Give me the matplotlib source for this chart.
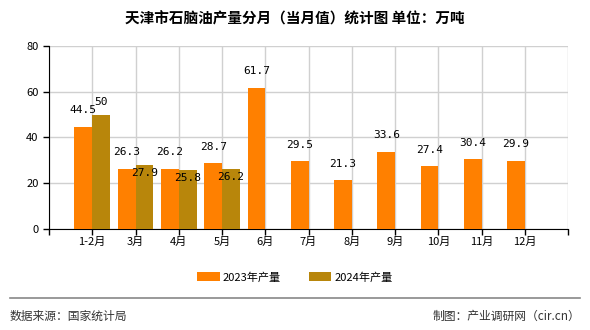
import matplotlib
matplotlib.use("Agg")
import matplotlib.pyplot as plt
import numpy as np

plt.rcParams['font.family'] = ['Noto Sans CJK SC', 'DejaVu Sans']

months = ["1-2月", "3月", "4月", "5月", "6月", "7月", "8月", "9月", "10月", "11月", "12月"]
y2023 = [44.5, 26.3, 26.2, 28.7, 61.7, 29.5, 21.3, 33.6, 27.4, 30.4, 29.9]
y2024 = [50, 27.9, 25.8, 26.2]
c2023 = "#FF8000"
c2024 = "#B8860B"

fig = plt.figure(figsize=(5.9, 3.3), dpi=100)
ax = fig.add_axes([0.083, 0.306, 0.88, 0.555])

x = np.arange(1, len(months) + 1)
w = 0.41
ax.bar(x - w / 2, y2023, width=w, color=c2023, label="2023年产量", zorder=3)
x24 = x[:len(y2024)]
ax.bar(x24 + w / 2, y2024, width=w, color=c2024, label="2024年产量", zorder=3)

mono = ['DejaVu Sans Mono']
for xi, v in zip(x, y2023):
    ax.annotate(f"{v:g}", (xi - w / 2, v), xytext=(0, 12), textcoords="offset points",
                ha="center", va="center", fontsize=8, family=mono)
for i, (xi, v) in enumerate(zip(x24, y2024)):
    off = 9 if i == 0 else -6
    ax.annotate(f"{v:g}", (xi + w / 2, v), xytext=(0, off), textcoords="offset points",
                ha="center", va="center", fontsize=8, family=mono)

ax.set_xlim(0, 12)
ax.set_ylim(0, 80)
ax.set_yticks([0, 20, 40, 60, 80])
ax.set_xticks(np.arange(0, 13))
ax.set_xticklabels([""] + months + [""], fontsize=8)
ax.tick_params(axis="y", labelsize=8, length=4, width=1)
ax.tick_params(axis="x", length=4, width=1, pad=2)
ax.grid(True, color="#d0d0d0", linewidth=1, zorder=0)
for s in ["top", "right"]:
    ax.spines[s].set_visible(False)
ax.spines["left"].set_color("black")
ax.spines["bottom"].set_color("black")

fig.text(0.5, 0.945, "天津市石脑油产量分月（当月值）统计图 单位：万吨", ha="center", va="center",
         fontsize=10.5, fontweight="bold")

fig.legend(loc="center", bbox_to_anchor=(0.5, 0.16), ncol=2, frameon=False, fontsize=8,
           handlelength=2, handleheight=0.8, columnspacing=2.5, handletextpad=0.3)

fig.add_artist(plt.Line2D([0.017, 0.983], [0.097, 0.097], color="#888888", linewidth=1.2))
fig.text(0.017, 0.042, "数据来源：国家统计局", ha="left", va="center", fontsize=8.5, color="#333333")
fig.text(0.983, 0.042, "制图：产业调研网（cir.cn）", ha="right", va="center", fontsize=8.5, color="#333333")

fig.savefig("out.png", dpi=100)
